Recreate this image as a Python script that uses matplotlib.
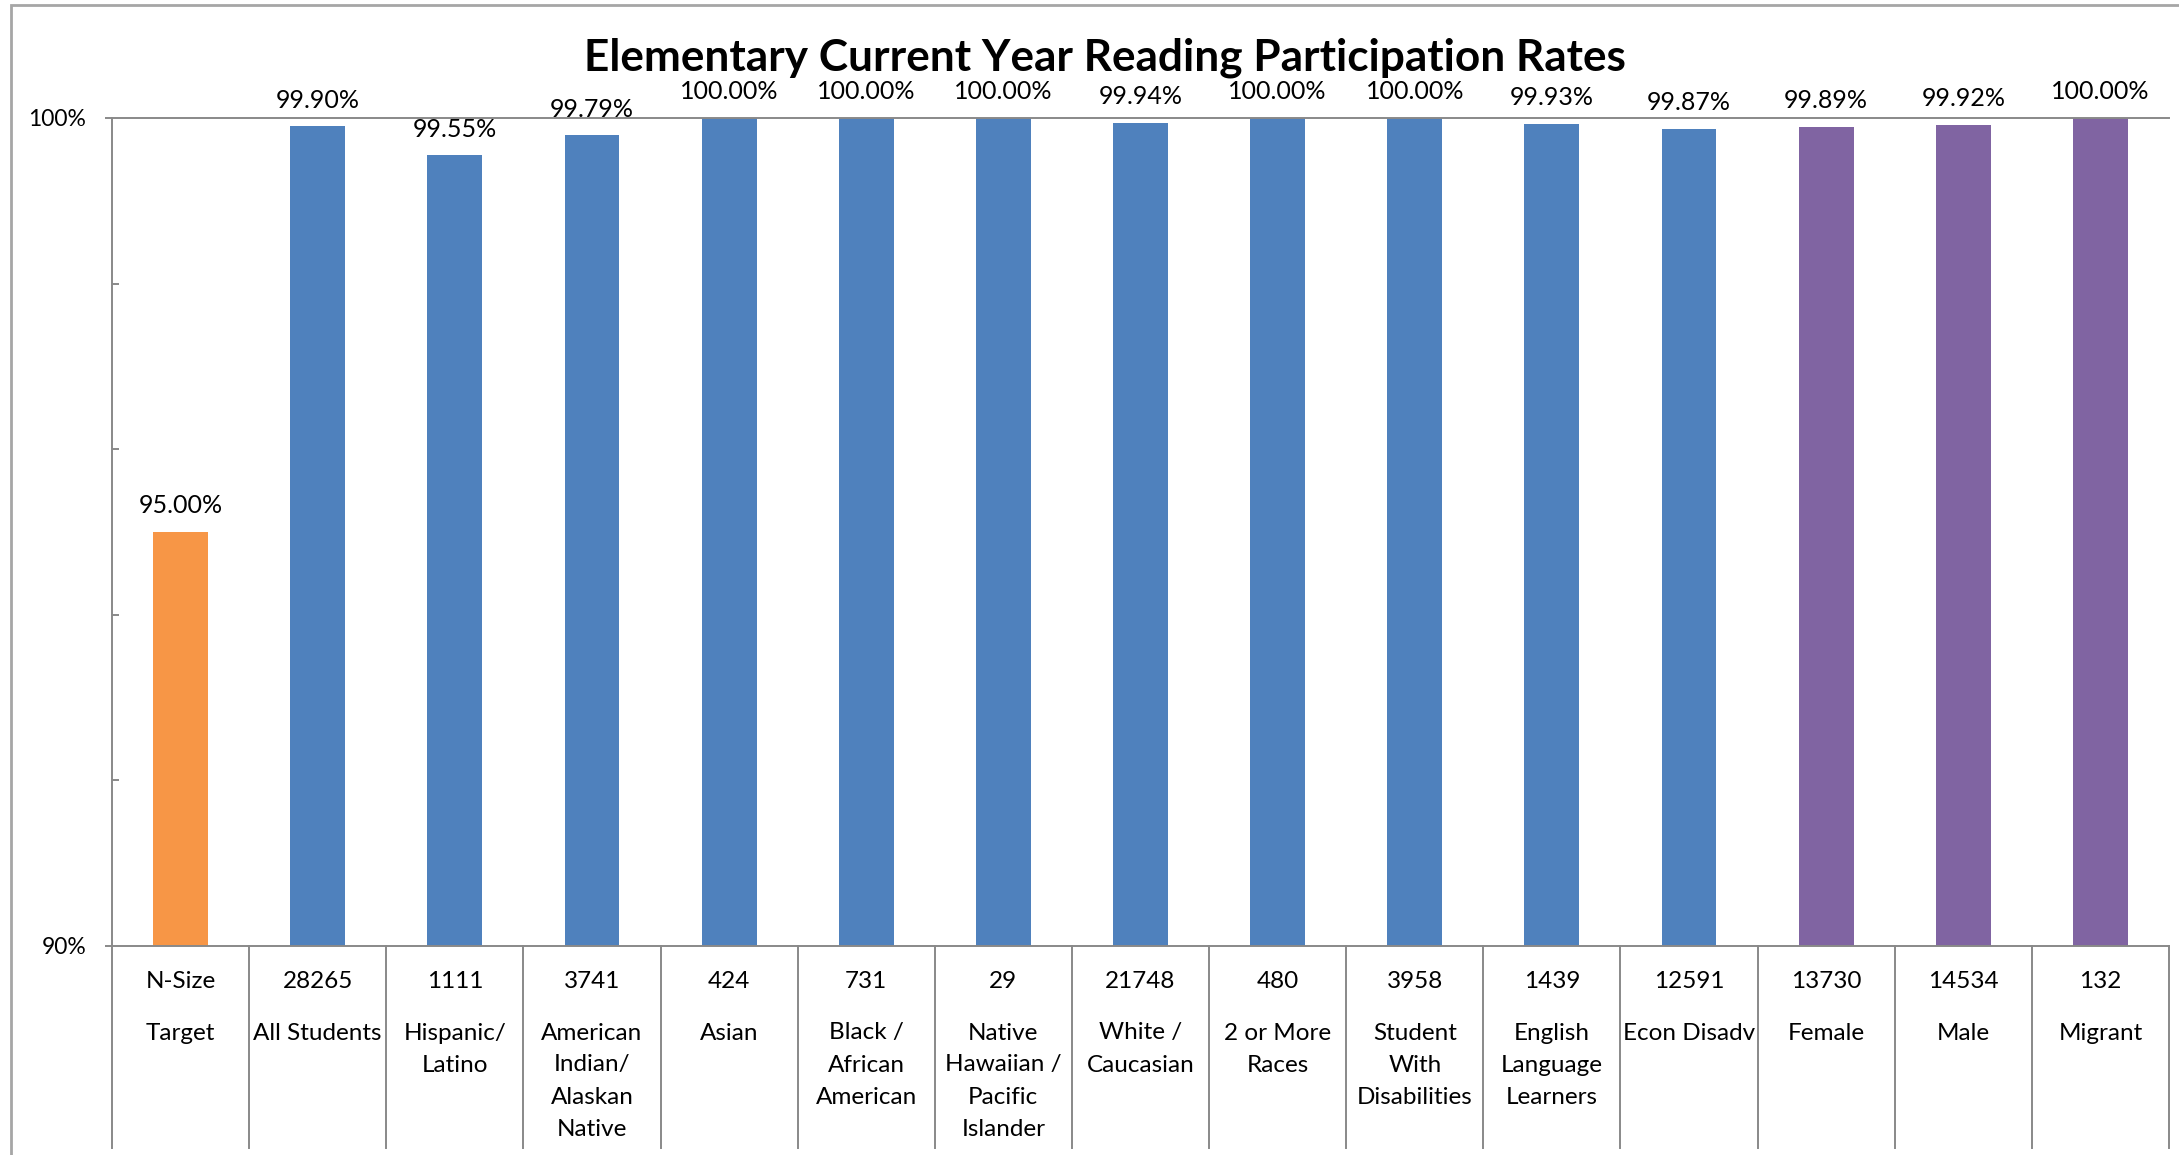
import numpy as np
import matplotlib
matplotlib.use("Agg")
import matplotlib.pyplot as plt
import matplotlib.patches as mpatches
import matplotlib.ticker as mticker

# ---------------------------------------------------------------------------
# Data
# ---------------------------------------------------------------------------
categories = [
    "Target", "All Students", "Hispanic/\nLatino",
    "American\nIndian/\nAlaskan\nNative", "Asian", "Black /\nAfrican\nAmerican",
    "Native\nHawaiian /\nPacific\nIslander", "White /\nCaucasian",
    "2 or More\nRaces", "Student\nWith\nDisabilities",
    "English\nLanguage\nLearners", "Econ Disadv", "Female", "Male", "Migrant",
]
n_sizes = ["N-Size", "28265", "1111", "3741", "424", "731", "29", "21748",
           "480", "3958", "1439", "12591", "13730", "14534", "132"]
rates = [95.00, 99.90, 99.55, 99.79, 100.00, 100.00, 100.00, 99.94,
         100.00, 100.00, 99.93, 99.87, 99.89, 99.92, 100.00]
groups = ["target"] + ["race"] * 11 + ["gender"] * 3

colors = {"target": "#F79646", "race": "#4F81BD", "gender": "#8064A2"}
FONT = "Lato"
W, H = 2179, 1155
DPI = 100

fig = plt.figure(figsize=(W / DPI, H / DPI), dpi=DPI)
ax = fig.add_axes([112 / W, 1 - 946 / H, (2169 - 112) / W, (946 - 118) / H])

x = np.arange(len(categories))
bars = ax.bar(x, rates, width=0.40, color=[colors[g] for g in groups], zorder=2)

ax.set_xlim(-0.5, len(categories) - 0.5)
ax.set_ylim(90, 100)

# value labels
for xi, v in zip(x, rates):
    ax.annotate(f"{v:.2f}%", (xi, v), xytext=(0, 13.5), textcoords="offset points",
                ha="center", va="baseline", fontsize=18, family=FONT,
                color="#000000", clip_on=False)

# axes styling
grey = "#898989"
ax.spines["right"].set_visible(False)
for side in ["left", "bottom", "top"]:
    ax.spines[side].set_color(grey)
    ax.spines[side].set_linewidth(1.4)

ax.yaxis.set_major_locator(mticker.FixedLocator([90, 100]))
ax.yaxis.set_minor_locator(mticker.FixedLocator([92, 94, 96, 98]))
ax.yaxis.set_major_formatter(mticker.FuncFormatter(lambda v, p: f"{v:.0f}%"))
ax.tick_params(axis="y", which="major", direction="out", length=5, width=1.4,
               color=grey, pad=13.5, labelsize=16.5)
ax.tick_params(axis="y", which="minor", direction="in", length=5, width=1.4, color=grey)
for lbl in ax.get_yticklabels():
    lbl.set_family(FONT)
ax.set_xticks([])

# table under the axis
px = 1.0 / (946 - 118)  # one pixel in axes units
for b in np.arange(len(categories) + 1) - 0.5:
    ax.plot([b, b], [0, -(1148 - 946) * px], color=grey, lw=1.4,
            transform=ax.get_xaxis_transform(), clip_on=False)

for xi, n, cat in zip(x, n_sizes, categories):
    ax.text(xi, -(981 - 946) * px, n, ha="center", va="center", fontsize=17.5,
            family=FONT, transform=ax.get_xaxis_transform())
    for k, line in enumerate(cat.split("\n")):
        ax.text(xi, -(1033 - 946 + 32 * k) * px, line, ha="center", va="center",
                fontsize=17.5, family=FONT, transform=ax.get_xaxis_transform())

# title
fig.text(1105 / W, 1 - 58 / H, "Elementary Current Year Reading Participation Rates",
         ha="center", va="center", fontsize=31.8, fontweight="bold", family=FONT)

# outer chart border
fig.patches.append(mpatches.Rectangle((11 / W, -0.1), 1.2, 1.1 - 5 / H,
                                      transform=fig.transFigure, fill=False,
                                      edgecolor="#A6A6A6", lw=2.0))

fig.savefig("out.png", dpi=DPI)
